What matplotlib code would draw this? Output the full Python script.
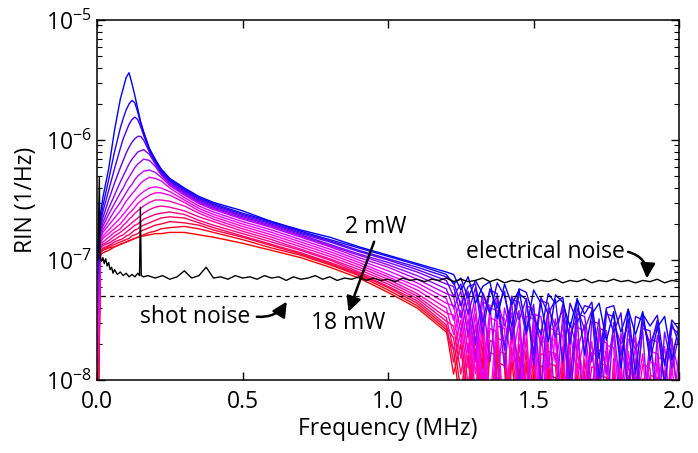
import numpy as np
import matplotlib.pyplot as plt
from matplotlib.ticker import LogLocator, NullFormatter

plt.rcParams['font.family'] = ['Open Sans', 'DejaVu Sans']
plt.rcParams['mathtext.fontset'] = 'custom'
plt.rcParams['mathtext.rm'] = 'Open Sans'
plt.rcParams['mathtext.it'] = 'Open Sans:italic'
plt.rcParams['mathtext.bf'] = 'Open Sans:bold'

# frequency grid (MHz), shared by all RIN curves
freq_low = [0.004, 0.012, 0.02, 0.04, 0.06, 0.08, 0.09, 0.10, 0.11, 0.12,
            0.13, 0.14, 0.15, 0.16, 0.18, 0.20, 0.22, 0.25, 0.30, 0.35,
            0.40, 0.50, 0.60, 0.70, 0.80, 0.90, 1.00, 1.10, 1.20]
freq_tail = [1.225, 1.25, 1.275, 1.3, 1.325, 1.35, 1.375, 1.4, 1.425, 1.45,
             1.475, 1.5, 1.525, 1.55, 1.575, 1.6, 1.625, 1.65, 1.675, 1.7,
             1.725, 1.75, 1.775, 1.8, 1.825, 1.85, 1.875, 1.9, 1.925, 1.95,
             1.975, 2.0]

# log10(RIN), one list per laser power (low part, then tail)
rin_02mw = [-6.95, -6.62, -6.48, -6.24, -5.92, -5.66, -5.57, -5.48, -5.44, -5.53,
            -5.63, -5.74, -5.85, -5.93, -6.07, -6.16, -6.24, -6.32, -6.40, -6.47,
            -6.52, -6.59, -6.68, -6.75, -6.81, -6.89, -6.96, -7.03, -7.10,
            -7.12, -7.25, -7.14, -7.36, -7.22, -7.18, -7.49, -7.20, -7.37, -7.25,
            -7.59, -7.25, -7.36, -7.68, -7.29, -7.35, -7.56, -7.32, -7.79, -7.45,
            -7.36, -7.67, -7.43, -7.90, -7.41, -7.62, -7.43, -7.84, -7.56, -7.47,
            -7.83, -7.54]
rin_03mw = [-7.00, -6.66, -6.55, -6.33, -6.10, -5.90, -5.82, -5.75, -5.70, -5.67,
            -5.69, -5.77, -5.86, -5.94, -6.08, -6.17, -6.25, -6.33, -6.41, -6.48,
            -6.53, -6.61, -6.68, -6.76, -6.83, -6.90, -6.97, -7.04, -7.12,
            -7.20, -7.15, -7.32, -7.17, -7.28, -7.45, -7.19, -7.30, -7.55, -7.24,
            -7.27, -7.48, -7.62, -7.28, -7.36, -7.31, -7.70, -7.33, -7.45, -7.35,
            -7.82, -7.40, -7.38, -7.60, -7.41, -7.95, -7.45, -7.55, -7.46, -7.88,
            -7.50, -7.58]
rin_04mw = [-7.05, -6.70, -6.60, -6.42, -6.24, -6.07, -5.99, -5.93, -5.87, -5.83,
            -5.81, -5.83, -5.89, -5.96, -6.09, -6.18, -6.26, -6.34, -6.42, -6.49,
            -6.54, -6.62, -6.69, -6.77, -6.84, -6.92, -6.99, -7.06, -7.14,
            -7.18, -7.38, -7.22, -7.20, -7.52, -7.24, -7.40, -7.26, -7.66, -7.28,
            -7.33, -7.78, -7.31, -7.45, -7.33, -7.85, -7.36, -7.52, -7.38, -7.40,
            -7.98, -7.42, -7.60, -7.44, -8.10, -7.47, -7.50, -7.75, -7.50, -8.05,
            -7.53, -7.70]
rin_05mw = [-7.10, -6.73, -6.65, -6.50, -6.36, -6.23, -6.17, -6.11, -6.06, -6.02,
            -5.99, -5.97, -5.97, -6.00, -6.10, -6.19, -6.27, -6.35, -6.43, -6.50,
            -6.55, -6.63, -6.70, -6.78, -6.85, -6.93, -7.00, -7.08, -7.17,
            -7.30, -7.20, -7.45, -7.23, -7.62, -7.25, -7.28, -7.75, -7.30, -7.50,
            -7.32, -7.88, -7.34, -7.36, -7.65, -7.37, -8.00, -7.40, -7.58, -7.42,
            -8.15, -7.45, -7.47, -7.80, -7.49, -8.25, -7.52, -7.70, -7.54, -8.05,
            -7.56, -7.62]
rin_06mw = [-7.15, -6.76, -6.69, -6.57, -6.46, -6.35, -6.30, -6.25, -6.20, -6.16,
            -6.13, -6.10, -6.09, -6.08, -6.12, -6.20, -6.28, -6.36, -6.44, -6.51,
            -6.56, -6.64, -6.71, -6.79, -6.87, -6.95, -7.02, -7.10, -7.20,
            -7.22, -7.48, -7.26, -7.70, -7.27, -7.42, -7.30, -7.90, -7.33, -7.35,
            -7.62, -7.37, -8.05, -7.40, -7.55, -7.42, -8.20, -7.45, -7.47, -7.85,
            -7.49, -8.35, -7.52, -7.70, -7.54, -8.10, -7.57, -7.59, -8.40, -7.60,
            -7.90, -7.62]
rin_07mw = [-7.25, -6.78, -6.72, -6.62, -6.53, -6.44, -6.40, -6.35, -6.31, -6.27,
            -6.23, -6.20, -6.18, -6.16, -6.17, -6.22, -6.29, -6.37, -6.45, -6.52,
            -6.57, -6.65, -6.72, -6.80, -6.88, -6.96, -7.04, -7.13, -7.24,
            -7.40, -7.26, -7.62, -7.29, -7.31, -7.85, -7.33, -7.55, -7.36, -8.05,
            -7.38, -7.41, -7.72, -7.43, -8.25, -7.46, -7.62, -7.48, -8.40, -7.51,
            -7.53, -7.95, -7.55, -8.15, -7.58, -7.75, -7.60, -8.45, -7.63, -7.85,
            -7.65, -8.30]
rin_08mw = [-7.35, -6.80, -6.75, -6.67, -6.59, -6.52, -6.48, -6.44, -6.40, -6.37,
            -6.33, -6.30, -6.28, -6.26, -6.25, -6.27, -6.31, -6.38, -6.46, -6.53,
            -6.58, -6.66, -6.73, -6.81, -6.89, -6.98, -7.06, -7.16, -7.28,
            -7.30, -7.60, -7.33, -7.85, -7.35, -7.38, -8.05, -7.40, -7.65, -7.42,
            -8.25, -7.45, -7.47, -7.90, -7.49, -8.40, -7.52, -7.75, -7.54, -8.10,
            -7.57, -7.59, -8.50, -7.61, -7.90, -7.63, -8.30, -7.66, -7.68, -8.55,
            -7.69, -7.95]
rin_09mw = [-7.45, -6.82, -6.77, -6.71, -6.65, -6.59, -6.55, -6.51, -6.48, -6.45,
            -6.42, -6.39, -6.36, -6.34, -6.31, -6.32, -6.34, -6.40, -6.48, -6.55,
            -6.60, -6.68, -6.75, -6.83, -6.91, -7.00, -7.09, -7.19, -7.32,
            -7.50, -7.34, -7.78, -7.37, -8.00, -7.40, -7.42, -7.70, -7.44, -8.25,
            -7.47, -7.49, -8.45, -7.51, -7.85, -7.54, -8.15, -7.56, -7.59, -8.55,
            -7.61, -7.95, -7.63, -8.35, -7.66, -7.68, -8.60, -7.70, -8.05, -7.72,
            -8.40, -7.75]
rin_10mw = [-7.55, -6.84, -6.80, -6.75, -6.70, -6.65, -6.62, -6.59, -6.56, -6.53,
            -6.50, -6.47, -6.45, -6.43, -6.40, -6.39, -6.40, -6.43, -6.50, -6.57,
            -6.62, -6.70, -6.77, -6.85, -6.93, -7.02, -7.12, -7.22, -7.36,
            -7.38, -7.70, -7.41, -7.95, -7.44, -8.20, -7.46, -7.49, -7.85, -7.51,
            -8.40, -7.54, -8.10, -7.56, -7.59, -8.55, -7.61, -7.95, -7.64, -8.30,
            -7.66, -7.69, -8.65, -7.71, -8.05, -7.73, -8.45, -7.76, -7.78, -8.70,
            -7.80, -8.15]
rin_11mw = [-7.65, -6.86, -6.82, -6.78, -6.74, -6.70, -6.67, -6.64, -6.61, -6.59,
            -6.56, -6.53, -6.51, -6.49, -6.46, -6.44, -6.44, -6.46, -6.52, -6.59,
            -6.64, -6.72, -6.79, -6.87, -6.95, -7.04, -7.14, -7.25, -7.40,
            -7.62, -7.42, -7.90, -7.45, -8.15, -7.48, -7.51, -8.40, -7.53, -7.90,
            -7.56, -8.55, -7.58, -8.20, -7.61, -7.63, -8.65, -7.66, -8.05, -7.68,
            -8.45, -7.71, -7.73, -8.75, -7.76, -8.15, -7.78, -8.60, -7.81, -7.83,
            -8.80, -7.85]
rin_12mw = [-7.75, -6.88, -6.85, -6.81, -6.77, -6.74, -6.71, -6.69, -6.66, -6.64,
            -6.61, -6.59, -6.57, -6.55, -6.52, -6.50, -6.50, -6.51, -6.55, -6.61,
            -6.66, -6.74, -6.81, -6.89, -6.97, -7.06, -7.16, -7.28, -7.44,
            -7.46, -7.82, -7.49, -8.10, -7.52, -8.35, -7.55, -7.57, -8.55, -7.60,
            -8.05, -7.62, -8.70, -7.65, -7.67, -8.30, -7.70, -8.80, -7.72, -8.10,
            -7.75, -7.77, -8.60, -7.80, -8.85, -7.82, -8.20, -7.85, -7.87, -8.70,
            -7.89, -8.40]
rin_13mw = [-7.85, -6.89, -6.87, -6.84, -6.80, -6.77, -6.75, -6.73, -6.71, -6.69,
            -6.67, -6.65, -6.63, -6.61, -6.58, -6.56, -6.55, -6.56, -6.59, -6.64,
            -6.68, -6.76, -6.83, -6.91, -6.99, -7.08, -7.18, -7.30, -7.48,
            -7.75, -7.50, -8.05, -7.54, -8.30, -7.57, -7.60, -8.55, -7.62, -8.15,
            -7.65, -8.75, -7.67, -7.70, -8.40, -7.72, -8.85, -7.75, -8.20, -7.77,
            -7.80, -8.70, -7.82, -8.90, -7.85, -8.30, -7.87, -7.90, -8.80, -7.92,
            -8.50, -7.95]
rin_14mw = [-7.95, -6.90, -6.88, -6.86, -6.83, -6.80, -6.79, -6.77, -6.75, -6.73,
            -6.71, -6.70, -6.68, -6.66, -6.64, -6.62, -6.61, -6.60, -6.62, -6.67,
            -6.71, -6.78, -6.85, -6.92, -7.00, -7.10, -7.20, -7.32, -7.51,
            -7.55, -7.95, -7.59, -8.25, -7.62, -8.50, -7.65, -7.68, -8.70, -7.70,
            -8.20, -7.73, -8.85, -7.76, -7.78, -8.45, -7.81, -8.90, -7.83, -8.30,
            -7.86, -7.88, -8.80, -7.91, -8.95, -7.93, -8.40, -7.96, -7.98, -8.85,
            -8.00, -8.55]
rin_15mw = [-8.10, -6.92, -6.90, -6.88, -6.85, -6.83, -6.82, -6.80, -6.79, -6.77,
            -6.75, -6.74, -6.72, -6.71, -6.69, -6.67, -6.65, -6.64, -6.65, -6.69,
            -6.73, -6.80, -6.87, -6.94, -7.02, -7.11, -7.22, -7.34, -7.54,
            -7.85, -7.60, -8.20, -7.64, -8.45, -7.67, -7.70, -8.70, -7.73, -8.30,
            -7.75, -8.90, -7.78, -7.81, -8.55, -7.83, -8.95, -7.86, -8.35, -7.89,
            -7.91, -8.85, -7.94, -9.00, -7.96, -8.45, -7.99, -8.01, -8.90, -8.03,
            -8.60, -8.05]
rin_16mw = [-8.20, -6.93, -6.91, -6.89, -6.87, -6.85, -6.84, -6.83, -6.82, -6.80,
            -6.79, -6.78, -6.76, -6.75, -6.73, -6.71, -6.70, -6.68, -6.69, -6.71,
            -6.75, -6.81, -6.88, -6.95, -7.03, -7.12, -7.23, -7.36, -7.56,
            -7.65, -8.10, -7.69, -8.40, -7.72, -8.65, -7.75, -7.78, -8.85, -7.80,
            -8.35, -7.83, -9.00, -7.86, -7.88, -8.60, -7.91, -9.00, -7.93, -8.45,
            -7.96, -7.98, -8.90, -8.01, -9.05, -8.03, -8.50, -8.06, -8.08, -8.95,
            -8.10, -8.65]
rin_17mw = [-8.30, -6.94, -6.92, -6.90, -6.89, -6.87, -6.86, -6.85, -6.84, -6.83,
            -6.82, -6.81, -6.80, -6.79, -6.77, -6.76, -6.74, -6.73, -6.72, -6.74,
            -6.77, -6.83, -6.90, -6.96, -7.04, -7.13, -7.25, -7.38, -7.58,
            -7.95, -7.70, -8.35, -7.74, -8.60, -7.77, -7.80, -8.85, -7.83, -8.45,
            -7.85, -9.00, -7.88, -7.91, -8.70, -7.93, -9.05, -7.96, -8.50, -7.99,
            -8.01, -8.95, -8.04, -9.10, -8.06, -8.60, -8.09, -8.11, -9.00, -8.13,
            -8.70, -8.15]
rin_18mw = [-8.40, -6.96, -6.94, -6.92, -6.89, -6.87, -6.86, -6.85, -6.84, -6.83,
            -6.82, -6.81, -6.80, -6.80, -6.79, -6.78, -6.78, -6.77, -6.77, -6.79,
            -6.81, -6.86, -6.92, -6.98, -7.06, -7.15, -7.27, -7.40, -7.60,
            -7.75, -8.25, -7.79, -8.55, -7.82, -8.80, -7.85, -7.88, -9.00, -7.90,
            -8.50, -7.93, -9.10, -7.96, -7.98, -8.75, -8.01, -9.10, -8.03, -8.55,
            -8.06, -8.08, -9.00, -8.11, -9.15, -8.13, -8.65, -8.16, -8.18, -9.05,
            -8.20, -8.75]

# electrical noise floor, log10(RIN)
elec_freq = [0.003, 0.008, 0.011, 0.015, 0.02, 0.025, 0.03, 0.035, 0.04, 0.045,
             0.05, 0.055, 0.06, 0.07, 0.08, 0.09, 0.10, 0.11, 0.12, 0.13,
             0.14, 0.146, 0.149, 0.152, 0.16,
             0.175, 0.2, 0.225, 0.25, 0.275, 0.3, 0.325, 0.35, 0.375, 0.4,
             0.425, 0.45, 0.475, 0.5, 0.525, 0.55, 0.575, 0.6, 0.625, 0.65,
             0.675, 0.7, 0.725, 0.75, 0.775, 0.8, 0.825, 0.85, 0.875, 0.9,
             0.925, 0.95, 0.975, 1.0, 1.025, 1.05, 1.075, 1.1, 1.125, 1.15,
             1.175, 1.2, 1.225, 1.25, 1.275, 1.3, 1.325, 1.35, 1.375, 1.4,
             1.425, 1.45, 1.475, 1.5, 1.525, 1.55, 1.575, 1.6, 1.625, 1.65,
             1.675, 1.7, 1.725, 1.75, 1.775, 1.8, 1.825, 1.85, 1.875, 1.9,
             1.925, 1.95, 1.975, 2.0]
elec_log = [-7.00, -6.31, -6.99, -7.01, -6.98, -7.03, -6.99, -7.05, -7.02, -7.08,
            -7.06, -7.11, -7.08, -7.12, -7.10, -7.13, -7.11, -7.14, -7.12, -7.14,
            -7.11, -7.13, -6.56, -7.13, -7.14,
            -7.13, -7.15, -7.13, -7.16, -7.14, -7.09, -7.15, -7.13, -7.06, -7.15,
            -7.14, -7.16, -7.13, -7.15, -7.14, -7.16, -7.13, -7.15, -7.14, -7.17,
            -7.14, -7.16, -7.15, -7.13, -7.16, -7.14, -7.17, -7.15, -7.16, -7.14,
            -7.17, -7.15, -7.17, -7.16, -7.18, -7.15, -7.17, -7.16, -7.18, -7.16,
            -7.17, -7.15, -7.18, -7.16, -7.18, -7.17, -7.15, -7.18, -7.16, -7.19,
            -7.17, -7.18, -7.16, -7.19, -7.17, -7.18, -7.16, -7.19, -7.17, -7.18,
            -7.16, -7.19, -7.17, -7.18, -7.16, -7.18, -7.17, -7.19, -7.17, -7.18,
            -7.16, -7.19, -7.17, -7.18]

shot_freq = [0.014, 2.0]
shot_level = 5.05e-8

freq = freq_low + freq_tail
curves = [rin_02mw, rin_03mw, rin_04mw, rin_05mw, rin_06mw, rin_07mw,
          rin_08mw, rin_09mw, rin_10mw, rin_11mw, rin_12mw, rin_13mw,
          rin_14mw, rin_15mw, rin_16mw, rin_17mw, rin_18mw]

fig, ax = plt.subplots(figsize=(6.98, 4.53), dpi=100)
fig.subplots_adjust(left=0.139, right=0.973, top=0.956, bottom=0.161)

# blue (2 mW) -> magenta -> red (18 mW); red drawn first
n = len(curves)
for k in range(n - 1, -1, -1):
    t = k / (n - 1)
    col = (min(1.0, 2 * t), 0.0, min(1.0, 2 * (1 - t)))
    ax.plot(freq, 10.0 ** np.array(curves[k]), color=col, lw=1.0)

ax.plot(elec_freq, 10.0 ** np.array(elec_log), color='black', lw=1.0)
ax.plot(shot_freq, [shot_level, shot_level], color='black', lw=0.9,
        linestyle=(0, (3.5, 3.5)))

ax.set_yscale('log')
ax.set_xlim(0, 2)
ax.set_ylim(1e-8, 1e-5)
ax.set_xticks([0, 0.5, 1.0, 1.5, 2.0])
ax.set_xticklabels(['0.0', '0.5', '1.0', '1.5', '2.0'])
ax.yaxis.set_minor_locator(LogLocator(base=10, subs=range(2, 10), numticks=20))
ax.yaxis.set_minor_formatter(NullFormatter())
ax.tick_params(which='both', direction='in', top=True, right=True,
               labelsize=16.5)
ax.tick_params(which='major', length=6, width=1.0)
ax.tick_params(which='minor', length=3.5, width=0.8)
ax.tick_params(axis='x', pad=7)
for s in ax.spines.values():
    s.set_linewidth(1.1)

ax.set_xlabel('Frequency (MHz)', fontsize=16.5, labelpad=2)
ax.set_ylabel('RIN (1/Hz)', fontsize=16.5, labelpad=6)

arrow = dict(arrowstyle='-|>', color='black', lw=1.8, mutation_scale=22,
             shrinkA=0, shrinkB=0)
ax.text(0.959, 1.9e-7, '2 mW', ha='center', va='center', fontsize=16.5)
ax.text(0.863, 2.98e-8, '18 mW', ha='center', va='center', fontsize=16.5)
ax.annotate('', xy=(0.864, 3.71e-8), xytext=(0.952, 1.42e-7), arrowprops=arrow)

ax.text(1.54, 1.17e-7, 'electrical noise', ha='center', va='center',
        fontsize=16.5)
ax.annotate('', xy=(1.889, 7.03e-8), xytext=(1.825, 1.17e-7),
            arrowprops=dict(arrow, connectionstyle='arc3,rad=-0.4'))

ax.text(0.337, 3.35e-8, 'shot noise', ha='center', va='center', fontsize=16.5)
ax.annotate('', xy=(0.652, 4.5e-8), xytext=(0.549, 3.37e-8),
            arrowprops=dict(arrow, connectionstyle='arc3,rad=0.3'))

plt.savefig('out.png', dpi=100)
